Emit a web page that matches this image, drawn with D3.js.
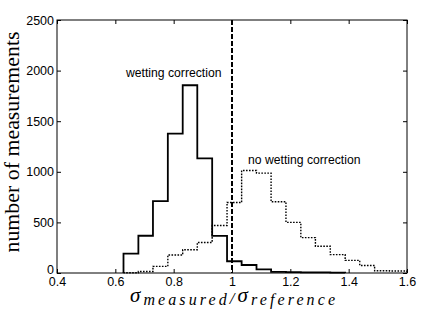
<!DOCTYPE html>
<html><head><meta charset="utf-8">
<script src="https://cdn.jsdelivr.net/npm/d3@7"></script>
<style>body{margin:0;background:#fff}svg{display:block}</style>
</head><body>
<svg id="c" width="436" height="317"></svg>
<script>
// Histogram bin edges
const binEdges = [0.628,0.679,0.729,0.780,0.831,0.881,0.932,0.983,1.033,1.084,1.134,1.185,1.236,1.286,1.337,1.388,1.438,1.489,1.540,1.600];
// counts per bin
const wettingCounts   = [191,368,710,1378,1855,1132,366,116,79,35,12,8,6,7,4];
const noWettingCounts = [3,15,65,178,230,302,470,697,1013,987,704,500,350,265,182,125,74,22,20];
const xTicks = [0.4,0.6,0.8,1,1.2,1.4,1.6];
const xTickLabels = ["0.4","0.6","0.8","1","1.2","1.4","1.6"];
const yTicks = [0,500,1000,1500,2000,2500];
const refLine = 1;

const svg = d3.select("#c");
const m = {l:57, r:407, t:20, b:273};
const x = d3.scaleLinear().domain([0.4,1.6]).range([m.l,m.r]);
const y = d3.scaleLinear().domain([0,2500]).range([m.b,m.t]);

function stairs(counts){
  const pts = [[binEdges[0],0]];
  counts.forEach((v,i)=>{pts.push([binEdges[i],v]);pts.push([binEdges[i+1],v]);});
  pts.push([binEdges[counts.length],0]);
  return pts;
}
const line = d3.line().x(d=>x(d[0])).y(d=>y(d[1]));

svg.append("path").attr("d",line(stairs(noWettingCounts)))
  .attr("fill","none").attr("stroke","#000").attr("stroke-width",1.4)
  .attr("stroke-dasharray","1.6,1.4");
svg.append("path").attr("d",line(stairs(wettingCounts)))
  .attr("fill","none").attr("stroke","#000").attr("stroke-width",1.8);

svg.append("line").attr("x1",x(refLine)).attr("x2",x(refLine))
  .attr("y1",m.t).attr("y2",m.b).attr("stroke","#000")
  .attr("stroke-width",2).attr("stroke-dasharray","5,2");

// axes frame
svg.append("rect").attr("x",m.l).attr("y",m.t).attr("width",m.r-m.l).attr("height",m.b-m.t)
  .attr("fill","none").attr("stroke","#000").attr("stroke-width",1);

const tl = 4;
const font = "'Liberation Sans', Arial, sans-serif";
// bottom axis
const gx = svg.append("g").attr("transform",`translate(0,${m.b})`)
  .call(d3.axisBottom(x).tickValues(xTicks).tickSizeInner(-tl).tickSizeOuter(0).tickPadding(4).tickFormat((d,i)=>xTickLabels[i]));
gx.select(".domain").remove();
gx.selectAll("text").attr("font-family",font).attr("font-size",12.5).attr("fill","#000");
// top ticks
const gxt = svg.append("g").attr("transform",`translate(0,${m.t})`)
  .call(d3.axisTop(x).tickValues(xTicks).tickSizeInner(-tl).tickSizeOuter(0).tickFormat(""));
gxt.select(".domain").remove();
// left axis
const gy = svg.append("g").attr("transform",`translate(${m.l},0)`)
  .call(d3.axisLeft(y).tickValues(yTicks).tickSizeInner(-tl).tickSizeOuter(0).tickPadding(3).tickFormat(d3.format("d")));
gy.select(".domain").remove();
gy.selectAll("text").attr("font-family",font).attr("font-size",12.5).attr("fill","#000");
gy.selectAll("text").filter(d=>d===0).attr("dy","0.05em");
// right ticks
const gyr = svg.append("g").attr("transform",`translate(${m.r},0)`)
  .call(d3.axisRight(y).tickValues(yTicks).tickSizeInner(-tl).tickSizeOuter(0).tickFormat(""));
gyr.select(".domain").remove();

// annotations
svg.append("text").attr("x",126).attr("y",77).attr("font-family",font).attr("font-size",12.2)
  .text("wetting correction");
svg.append("text").attr("x",248).attr("y",164).attr("font-family",font).attr("font-size",12.2)
  .text("no wetting correction");

// y label
svg.append("text").attr("transform","translate(19,142) rotate(-90)")
  .attr("text-anchor","middle").attr("font-family","'Liberation Serif', 'DejaVu Serif', serif")
  .attr("font-size",20).attr("textLength",221).attr("lengthAdjust","spacingAndGlyphs")
  .text("number of measurements");

// x label
const serif = "'Liberation Serif', 'DejaVu Serif', serif";
const xl = svg.append("text").attr("x",130).attr("y",302).attr("font-family",serif)
  .attr("font-style","italic").attr("textLength",205).attr("lengthAdjust","spacing");
xl.append("tspan").attr("font-size",21).text("σ");
xl.append("tspan").attr("font-size",16).attr("dy",3).text("measured");
xl.append("tspan").attr("font-size",17).attr("dy",-1).text("/");
xl.append("tspan").attr("font-size",21).attr("dy",-2).text("σ");
xl.append("tspan").attr("font-size",16).attr("dy",3).text("reference");
</script>
</body></html>
